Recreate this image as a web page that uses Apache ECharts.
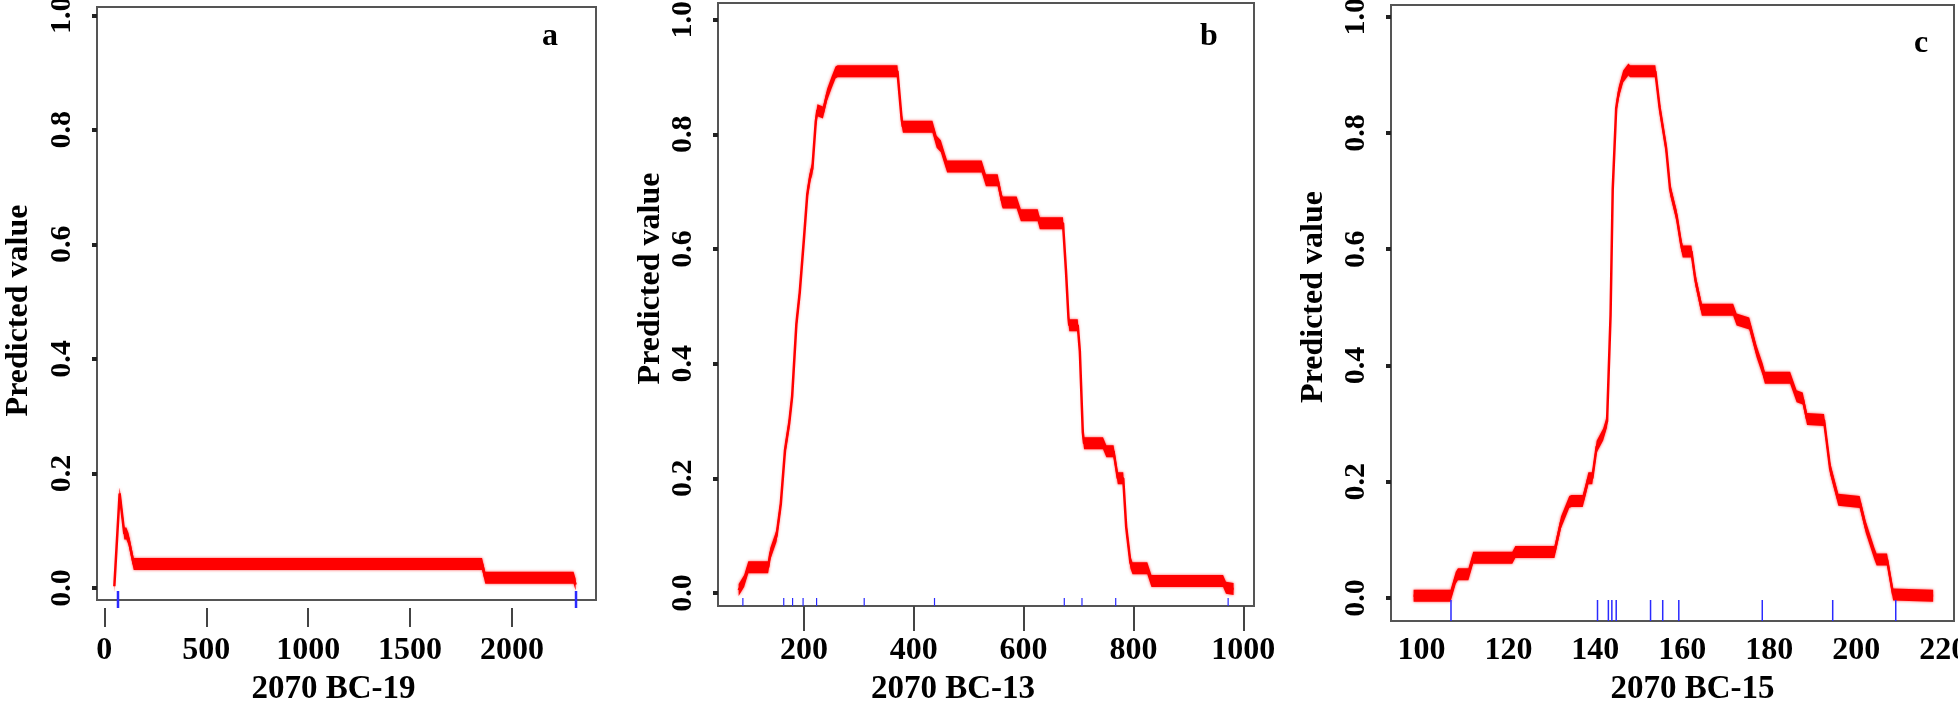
<!DOCTYPE html>
<html><head><meta charset="utf-8">
<script src="https://cdn.jsdelivr.net/npm/echarts@6/dist/echarts.min.js"></script>
<style>html,body{margin:0;padding:0;background:#fff}#c{width:1958px;height:706px}</style>
</head><body><div id="c"></div>
<script>
// ---- data ----
const aX = [49, 75, 98, 108, 119, 144, 1853, 1869, 2302, 2312];
const aY = [0.003, 0.165, 0.095, 0.095, 0.085, 0.042, 0.042, 0.018, 0.018, 0.006];
const aRug = [67, 2314];

const bX = [81.2, 91.2, 98.8, 134.9, 138.7, 150.2, 157.9, 165.6, 173.2, 178.6, 186.3, 192.4, 200.1, 206.2, 211.6, 215.4, 221.6, 224.6, 234.6, 242.3, 249.9, 257.6, 261.4, 370.3, 378.0, 380.3, 434.0, 441.7, 449.3, 457.0, 460.8, 523.7, 531.4, 552.8, 560.5, 562.0, 587.4, 595.0, 625.7, 629.5, 671.7, 677.1, 681.7, 683.2, 698.6, 702.4, 707.8, 710.1, 744.6, 750.7, 763.8, 769.9, 771.5, 781.4, 786.8, 794.5, 798.3, 825.2, 832.8, 963.2, 968.5, 982.3];
const bY = [0.005, 0.021, 0.045, 0.045, 0.068, 0.1, 0.155, 0.249, 0.296, 0.343, 0.469, 0.524, 0.618, 0.696, 0.728, 0.74, 0.822, 0.842, 0.838, 0.869, 0.889, 0.908, 0.91, 0.91, 0.826, 0.813, 0.813, 0.787, 0.779, 0.755, 0.744, 0.744, 0.72, 0.72, 0.685, 0.681, 0.681, 0.659, 0.659, 0.645, 0.645, 0.563, 0.48, 0.467, 0.467, 0.422, 0.28, 0.261, 0.261, 0.247, 0.247, 0.21, 0.2, 0.2, 0.115, 0.053, 0.043, 0.043, 0.021, 0.021, 0.009, 0.007];
const bRug = [88.9, 163.3, 179.4, 198.5, 223.1, 309.8, 437.8, 674.1, 706.3, 767.7, 972.4];

const cX = [98.2, 106.7, 107.9, 108.4, 110.8, 111.9, 120.9, 121.6, 130.6, 132.1, 134.0, 134.5, 137.1, 137.9, 138.4, 139.3, 140.3, 141.8, 142.7, 143.5, 144.0, 144.8, 145.4, 146.4, 147.6, 148.0, 153.8, 154.8, 156.3, 157.2, 158.7, 159.7, 160.1, 162.1, 163.0, 164.5, 171.7, 172.5, 175.4, 177.1, 178.5, 179.0, 184.8, 186.3, 187.7, 188.7, 192.6, 194.0, 195.9, 200.8, 202.2, 204.2, 204.7, 207.1, 208.5, 217.7];
const cY = [0.004, 0.004, 0.035, 0.041, 0.041, 0.069, 0.069, 0.079, 0.079, 0.13, 0.165, 0.167, 0.167, 0.19, 0.206, 0.206, 0.26, 0.281, 0.304, 0.486, 0.703, 0.843, 0.87, 0.897, 0.909, 0.906, 0.906, 0.843, 0.773, 0.703, 0.657, 0.61, 0.596, 0.596, 0.548, 0.496, 0.496, 0.479, 0.472, 0.424, 0.393, 0.379, 0.379, 0.347, 0.343, 0.308, 0.306, 0.223, 0.169, 0.165, 0.122, 0.076, 0.066, 0.066, 0.006, 0.004];
const cRug = [106.8, 140.5, 143, 143.8, 144.8, 152.7, 155.5, 159.2, 178.4, 194.6, 209.1];

const yTicks = [0, 0.2, 0.4, 0.6, 0.8, 1.0];
const aTicks = [0, 500, 1000, 1500, 2000];
const bTicks = [200, 400, 600, 800, 1000];
const cTicks = [100, 120, 140, 160, 180, 200, 220];
const xNames = ['2070 BC-19', '2070 BC-13', '2070 BC-15'];
const yName = 'Predicted value';
const panelLetters = ['a', 'b', 'c'];

// ---- layout / style ----
const FONT = 'Liberation Serif';
const panels = [
  {xs: aX, ys: aY, rug: aRug, ticks: aTicks, grid: {left: 97, top: 7, width: 499, height: 593}, xmin: -36, xmax: 2412, ymin: -0.021, ymax: 1.0145,
   xOffset: 8, xTick: {show: true, length: 19}, xLabelMargin: 27, xNameGap: 65, xNamePad: [0, 26, 0, 0], yNameGap: 62, yNamePad: [0, 14, 0, 0], rugAbove: 9, rugBelow: 8, rugW: 2.5, letter: [545, 36]},
  {xs: bX, ys: bY, rug: bRug, ticks: bTicks, grid: {left: 718, top: 3, width: 536, height: 603}, xmin: 43.6, xmax: 1019.5, ymin: -0.0227, ymax: 1.029,
   xOffset: 0, xTick: {show: true, length: 25}, xLabelMargin: 29, xNameGap: 67, xNamePad: [0, 66, 0, 0], yNameGap: 50, yNamePad: [0, 0, 0, 52], rugAbove: 8, rugBelow: 0, rugW: 1.2, letter: [1203, 36]},
  {xs: cX, ys: cY, rug: cRug, ticks: cTicks, grid: {left: 1391, top: 5, width: 563, height: 616}, xmin: 93, xmax: 222.5, ymin: -0.0396, ymax: 1.020,
   xOffset: 0, xTick: {show: false}, xLabelMargin: 14, xNameGap: 52, xNamePad: [0, 0, 0, 40], yNameGap: 61, yNamePad: [0, 0, 0, 32], rugAbove: 21, rugBelow: 0, rugW: 1.5, letter: [1917, 43]}
];

const option = {animation: false, backgroundColor: '#fff', grid: [], xAxis: [], yAxis: [], series: [], title: []};
const BAND = 6;

panels.forEach((p, i) => {
  option.grid.push(Object.assign({show: true, borderColor: '#555', borderWidth: 2, backgroundColor: 'transparent',
    containLabel: false, outerBoundsMode: 'none'}, p.grid));
  option.title.push({text: panelLetters[i], left: p.letter[0] - 8, top: p.letter[1] - 20,
    textStyle: {fontFamily: FONT, fontWeight: 'bold', fontSize: 32, color: '#000'}});
  option.xAxis.push({
    gridIndex: i, type: 'value', position: 'bottom', min: p.xmin, max: p.xmax, offset: p.xOffset,
    axisLine: {show: true, onZero: false, lineStyle: {color: 'rgba(0,0,0,0)'}}, splitLine: {show: false},
    axisTick: {show: p.xTick.show, inside: false, length: p.xTick.length || 0, customValues: p.ticks, lineStyle: {color: '#444', width: 2}},
    axisLabel: {customValues: p.ticks, inside: false, margin: p.xLabelMargin, formatter: v => String(v), fontFamily: FONT, fontWeight: 'bold', fontSize: 32, color: '#000', hideOverlap: false},
    name: xNames[i], nameLocation: 'middle', nameGap: p.xNameGap,
    nameTextStyle: {fontFamily: FONT, fontWeight: 'bold', fontSize: 33, color: '#000', padding: p.xNamePad}
  });
  option.yAxis.push({
    gridIndex: i, type: 'value', position: 'left', min: p.ymin, max: p.ymax,
    axisLine: {show: true, onZero: false, lineStyle: {color: 'rgba(0,0,0,0)'}}, splitLine: {show: false},
    axisTick: {show: true, inside: false, length: 5, customValues: yTicks, lineStyle: {color: '#222', width: 4}},
    axisLabel: {customValues: yTicks, rotate: 90, margin: 20, formatter: v => v.toFixed(1), fontFamily: FONT, fontWeight: 'bold', fontSize: 30, color: '#000'},
    name: yName, nameLocation: 'middle', nameGap: p.yNameGap,
    nameTextStyle: {fontFamily: FONT, fontWeight: 'bold', fontSize: 32, color: '#000', padding: p.yNamePad}
  });
  const pairs = p.xs.map((x, k) => [x, p.ys[k]]);
  // thick red band (curve swept vertically)
  option.series.push({
    type: 'custom', xAxisIndex: i, yAxisIndex: i, silent: true, z: 2,
    data: [pairs[0]],
    renderItem: (params, api) => {
      const pts = pairs.map(d => api.coord(d));
      const top = pts.map(q => [q[0], q[1] - BAND]);
      const bot = pts.map(q => [q[0], q[1] + BAND]).reverse();
      return {type: 'polygon', shape: {points: top.concat(bot)},
        style: {fill: '#ff0000', shadowBlur: 3, shadowColor: 'rgba(255,0,0,0.7)'}};
    }
  });
  option.series.push({
    type: 'line', xAxisIndex: i, yAxisIndex: i, data: pairs, showSymbol: false, silent: true, z: 3,
    lineStyle: {color: '#ff0000', width: 2.5}
  });
  // rug marks
  option.series.push({
    type: 'custom', xAxisIndex: i, yAxisIndex: i, silent: true, z: 4,
    data: p.rug.map(x => [x, p.ymin]),
    renderItem: (params, api) => {
      const q = api.coord([api.value(0), p.ymin]);
      return {type: 'line', shape: {x1: q[0], y1: q[1] + p.rugBelow, x2: q[0], y2: q[1] - p.rugAbove},
        style: {stroke: '#2a2aff', lineWidth: p.rugW}};
    }
  });
});

const chart = echarts.init(document.getElementById('c'), null, {renderer: 'canvas'});
chart.setOption(option);
</script>
</body></html>
